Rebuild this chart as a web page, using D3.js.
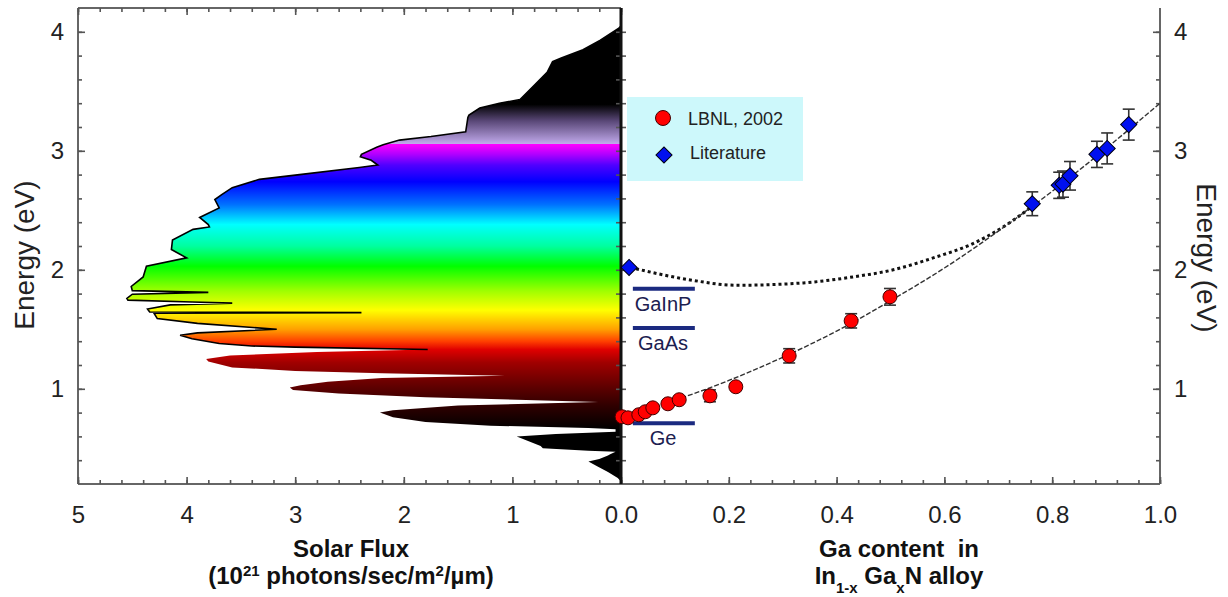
<!DOCTYPE html>
<html>
<head>
<meta charset="utf-8">
<script src="https://cdn.jsdelivr.net/npm/d3@7.9.0/dist/d3.min.js"></script>
<style>
  body { margin: 0; background: #fff; }
  svg { font-family: "Liberation Sans", Arial, sans-serif; }
</style>
</head>
<body>
<svg id="chart" width="1228" height="597"></svg>
<script>
// solar spectrum: energy (eV) and photon flux (1e21 /sec/m2/um)
const spectrumEnergy = [4.05, 4.03, 3.93, 3.85, 3.78, 3.75, 3.66, 3.54, 3.43, 3.40, 3.36, 3.30, 3.28, 3.16, 3.12, 3.09,
  3.05, 3.03, 2.97, 2.95, 2.92, 2.88, 2.86, 2.80, 2.76, 2.69, 2.63, 2.59, 2.52, 2.44, 2.38, 2.36, 2.34, 2.25, 2.17,
  2.10, 2.03, 1.94, 1.86, 1.825, 1.81, 1.795, 1.76, 1.745, 1.73, 1.72, 1.705, 1.67, 1.645, 1.64, 1.635, 1.59, 1.55,
  1.50, 1.47, 1.45, 1.42, 1.38, 1.36, 1.35, 1.33, 1.31, 1.28, 1.25, 1.23, 1.18, 1.15, 1.13, 1.11, 1.09, 1.06, 1.03,
  1.01, 0.99, 0.96, 0.93, 0.89, 0.86, 0.82, 0.80, 0.76, 0.72, 0.69, 0.67, 0.66, 0.64, 0.62, 0.60, 0.56, 0.52, 0.50,
  0.48, 0.47, 0.45, 0.44, 0.41, 0.39, 0.35, 0.30, 0.25, 0.22];
const spectrumFlux = [0, 0.02, 0.19, 0.35, 0.55, 0.63, 0.68, 0.81, 0.93, 1.12, 1.30, 1.40, 1.41, 1.43, 1.75, 2.04,
  2.19, 2.25, 2.39, 2.40, 2.30, 2.24, 2.41, 2.96, 3.33, 3.58, 3.68, 3.74, 3.70, 3.88, 3.80, 3.79, 3.94, 4.13, 4.14,
  4.00, 4.37, 4.40, 4.51, 4.50, 3.80, 4.50, 4.55, 4.54, 3.95, 3.58, 4.15, 4.36, 4.34, 2.39, 4.30, 4.27, 3.90,
  3.17, 3.90, 4.06, 3.95, 3.70, 3.40, 3.00, 1.78, 2.80, 3.60, 3.82, 3.80, 3.58, 3.00, 2.20, 1.07, 2.20, 2.70, 2.95,
  3.05, 3.02, 2.60, 1.80, 0.21, 1.50, 2.10, 2.22, 2.10, 1.80, 1.20, 0.30, 0.05, 0.05, 0.60, 0.96, 0.85, 0.74, 0.72,
  0.30, 0.05, 0.10, 0.12, 0.20, 0.30, 0.22, 0.12, 0.03, 0];

// LBNL 2002 band gaps
const lbnlGa = [0.002, 0.013, 0.033, 0.045, 0.059, 0.087, 0.108, 0.165, 0.213, 0.312, 0.427, 0.499];
const lbnlGap = [0.765, 0.756, 0.782, 0.807, 0.840, 0.874, 0.908, 0.941, 1.017, 1.277, 1.571, 1.773];
const lbnlErr = [0.02, 0.02, 0.02, 0.02, 0.02, 0.02, 0.02, 0.05, 0.03, 0.06, 0.06, 0.07];

// literature band gaps
const litGa = [0.015, 0.763, 0.813, 0.820, 0.833, 0.883, 0.902, 0.942];
const litGap = [2.02, 2.555, 2.71, 2.72, 2.79, 2.97, 3.02, 3.22];
const litErr = [0, 0.10, 0.11, 0.11, 0.12, 0.11, 0.13, 0.13];

// dashed fit through the new data, dotted curve through the old values
const fitGa = [0, 0.1, 0.2, 0.3, 0.4, 0.5, 0.6, 0.7, 0.8, 0.9, 1.0];
const fitGap = [0.77, 0.905, 1.07, 1.265, 1.485, 1.74, 2.015, 2.325, 2.66, 3.02, 3.40];
const oldGa = [0.017, 0.122, 0.215, 0.338, 0.43, 0.505, 0.586, 0.648, 0.709, 0.762];
const oldGap = [2.02, 1.92, 1.87, 1.89, 1.94, 2.00, 2.11, 2.21, 2.36, 2.53];

// reference junction materials
const deviceNames = ['GaInP', 'GaAs', 'Ge'];
const deviceGaps = [1.84, 1.51, 0.71];

const fluxTicks = [5, 4, 3, 2, 1, 0];
const fluxTickLabels = ['5', '4', '3', '2', '1', '0.0'];
const gaTicks = [0.2, 0.4, 0.6, 0.8, 1.0];
const gaTickLabels = ['0.2', '0.4', '0.6', '0.8', '1.0'];
const energyTicks = [1, 2, 3, 4];

const svg = d3.select('#chart');
const yTop = 8, yBottom = 484;
const xFlux = d3.scaleLinear().domain([5, 0]).range([78, 621]);
const xGa = d3.scaleLinear().domain([0, 1]).range([621, 1160]);
const y = d3.scaleLinear().domain([0.2, 4.2]).range([yBottom, yTop]);

// spectrum colours by energy
const colorStops = [
  [4.2, '#000000'], [3.39, '#000000'], [3.25, '#5a4878'], [3.06, '#c0a8ea'], [3.055, '#ff00ff'],
  [2.97, '#b000ff'], [2.88, '#5000ff'], [2.74, '#0000ff'], [2.55, '#0070ff'], [2.38, '#00ffff'],
  [2.20, '#00ffa0'], [2.03, '#00ff00'], [1.82, '#a0ff00'], [1.66, '#ffff00'], [1.50, '#ffa000'],
  [1.40, '#ff4000'], [1.33, '#e00000'], [1.22, '#a00000'], [1.02, '#600000'], [0.86, '#300000'],
  [0.66, '#000000'], [0.2, '#000000']
];
const grad = svg.append('defs').append('linearGradient')
  .attr('id', 'spec').attr('gradientUnits', 'userSpaceOnUse')
  .attr('x1', 0).attr('x2', 0).attr('y1', y(4.2)).attr('y2', y(0.2));
colorStops.forEach(([e, c]) => {
  grad.append('stop').attr('offset', (y(e) - y(4.2)) / (y(0.2) - y(4.2))).attr('stop-color', c);
});

const spectrum = spectrumEnergy.map((e, i) => ({ e, f: spectrumFlux[i] }));
svg.append('path')
  .datum(spectrum)
  .attr('fill', 'url(#spec)')
  .attr('d', d3.area().y(d => y(d.e)).x0(xFlux(0)).x1(d => xFlux(d.f)));
svg.append('path')
  .datum(spectrum.filter(d => d.e >= 1.33))
  .attr('fill', 'none').attr('stroke', '#000').attr('stroke-width', 1.6)
  .attr('d', d3.line().y(d => y(d.e)).x(d => xFlux(d.f)));

// frame
const frame = svg.append('g').attr('stroke', '#666').attr('stroke-width', 2).attr('fill', 'none');
frame.append('line').attr('x1', 78).attr('x2', 78).attr('y1', yTop).attr('y2', yBottom);
frame.append('line').attr('x1', 78).attr('x2', 621).attr('y1', yTop).attr('y2', yTop);
frame.append('line').attr('x1', 78).attr('x2', 1160).attr('y1', yBottom).attr('y2', yBottom);
frame.append('line').attr('x1', 1160).attr('x2', 1160).attr('y1', yTop).attr('y2', yBottom);

function ticks(g) {
  g.select('.domain').remove();
  g.selectAll('line').attr('stroke', '#555').attr('stroke-width', 1.6);
}
const minorE = d3.range(0.4, 4.15, 0.2);
const minorF = d3.range(0, 5.01, 0.2);
const minorG = d3.range(0, 1.001, 0.04);

// left panel axes
svg.append('g').attr('transform', `translate(0,${yBottom})`)
  .call(d3.axisBottom(xFlux).tickValues(minorF).tickSize(-4).tickFormat('')).call(ticks);
svg.append('g').attr('transform', `translate(0,${yBottom})`)
  .call(d3.axisBottom(xFlux).tickValues(fluxTicks).tickSize(-7).tickPadding(22)
    .tickFormat((d, i) => fluxTickLabels[i])).call(ticks);
svg.append('g').attr('transform', `translate(0,${yTop})`)
  .call(d3.axisTop(xFlux).tickValues(minorF).tickSize(-4).tickFormat('')).call(ticks);
svg.append('g').attr('transform', `translate(0,${yTop})`)
  .call(d3.axisTop(xFlux).tickValues(fluxTicks).tickSize(-7).tickFormat('')).call(ticks);
svg.append('g').attr('transform', 'translate(78,0)')
  .call(d3.axisLeft(y).tickValues(minorE).tickSize(-4).tickFormat('')).call(ticks);
svg.append('g').attr('transform', 'translate(78,0)')
  .call(d3.axisLeft(y).tickValues(energyTicks).tickSize(-7).tickPadding(14).tickFormat(d3.format('d'))).call(ticks);

// right panel axes
svg.append('g').attr('transform', `translate(0,${yBottom})`)
  .call(d3.axisBottom(xGa).tickValues(minorG).tickSize(-4).tickFormat('')).call(ticks);
svg.append('g').attr('transform', `translate(0,${yBottom})`)
  .call(d3.axisBottom(xGa).tickValues(gaTicks).tickSize(-7).tickPadding(22)
    .tickFormat((d, i) => gaTickLabels[i])).call(ticks);
svg.append('g').attr('transform', 'translate(1160,0)')
  .call(d3.axisRight(y).tickValues(minorE).tickSize(-4).tickFormat('')).call(ticks);
svg.append('g').attr('transform', 'translate(1160,0)')
  .call(d3.axisRight(y).tickValues(energyTicks).tickSize(-7).tickPadding(14).tickFormat(d3.format('d'))).call(ticks);

svg.selectAll('.tick text').attr('font-size', 24).attr('fill', '#222')
  .attr('font-family', '"Liberation Sans", Arial, sans-serif');

// centre axis, ticks on both sides
svg.append('g').attr('transform', 'translate(621,0)')
  .call(d3.axisLeft(y).tickValues(minorE).tickSize(5).tickFormat('')).call(ticks);
svg.append('g').attr('transform', 'translate(621,0)')
  .call(d3.axisRight(y).tickValues(minorE).tickSize(5).tickFormat('')).call(ticks);
svg.append('line').attr('x1', 621).attr('x2', 621).attr('y1', yTop).attr('y2', yBottom)
  .attr('stroke', '#111').attr('stroke-width', 3);

// legend box
svg.append('rect').attr('x', 627).attr('y', 97).attr('width', 176).attr('height', 84).attr('fill', '#cdf8fb');

// device band gap lines
const devG = svg.append('g');
deviceGaps.forEach((g, i) => {
  devG.append('line').attr('x1', xGa(0.022)).attr('x2', xGa(0.137)).attr('y1', y(g)).attr('y2', y(g))
    .attr('stroke', '#1b2a80').attr('stroke-width', 4);
  devG.append('text').attr('x', xGa(0.078)).attr('y', y(g) + 22).attr('text-anchor', 'middle')
    .attr('font-size', 20).attr('fill', '#1c2050').text(deviceNames[i]);
});

// curves
const lineGa = d3.line().curve(d3.curveMonotoneX).x(d => xGa(d[0])).y(d => y(d[1]));
svg.append('path').datum(oldGa.map((g, i) => [g, oldGap[i]]))
  .attr('fill', 'none').attr('stroke', '#111').attr('stroke-width', 3).attr('stroke-dasharray', '3,3')
  .attr('d', lineGa);
svg.append('path').datum(fitGa.map((g, i) => [g, fitGap[i]]))
  .attr('fill', 'none').attr('stroke', '#333').attr('stroke-width', 1.4).attr('stroke-dasharray', '5,2')
  .attr('d', lineGa);

// error bars
function errorBars(xs, ys, es) {
  const g = svg.append('g').attr('stroke', '#333').attr('stroke-width', 1.6);
  xs.forEach((x, i) => {
    if (!es[i]) return;
    const cx = xGa(x), y0 = y(ys[i] - es[i]), y1 = y(ys[i] + es[i]);
    g.append('line').attr('x1', cx).attr('x2', cx).attr('y1', y0).attr('y2', y1);
    g.append('line').attr('x1', cx - 6).attr('x2', cx + 6).attr('y1', y0).attr('y2', y0);
    g.append('line').attr('x1', cx - 6).attr('x2', cx + 6).attr('y1', y1).attr('y2', y1);
  });
}
errorBars(lbnlGa, lbnlGap, lbnlErr);
errorBars(litGa, litGap, litErr);

const diamond = d3.symbol().type(d3.symbolSquare).size(130);
svg.append('g').selectAll('circle').data(lbnlGa).join('circle')
  .attr('cx', d => xGa(d)).attr('cy', (d, i) => y(lbnlGap[i])).attr('r', 7)
  .attr('fill', '#ff0000').attr('stroke', '#400').attr('stroke-width', 1);
svg.append('g').selectAll('path').data(litGa).join('path')
  .attr('d', diamond)
  .attr('transform', (d, i) => `translate(${xGa(d)},${y(litGap[i])}) rotate(45)`)
  .attr('fill', '#0010f0').attr('stroke', '#001').attr('stroke-width', 1);

// legend entries
svg.append('circle').attr('cx', 663).attr('cy', 118).attr('r', 7.5)
  .attr('fill', '#ff0000').attr('stroke', '#400').attr('stroke-width', 1);
svg.append('path').attr('d', diamond)
  .attr('transform', 'translate(664,155) rotate(45)')
  .attr('fill', '#0010f0').attr('stroke', '#001').attr('stroke-width', 1);
svg.append('text').attr('x', 688).attr('y', 125).attr('font-size', 18).attr('fill', '#222').text('LBNL, 2002');
svg.append('text').attr('x', 690).attr('y', 159).attr('font-size', 18).attr('fill', '#222').text('Literature');

// axis titles
svg.append('text').attr('transform', 'translate(34,255) rotate(-90)').attr('text-anchor', 'middle')
  .attr('font-size', 28).attr('fill', '#222').text('Energy (eV)');
svg.append('text').attr('transform', 'translate(1197,258) rotate(90)').attr('text-anchor', 'middle')
  .attr('font-size', 28).attr('fill', '#222').text('Energy (eV)');

const t1 = svg.append('g').attr('font-weight', 'bold').attr('font-size', 24).attr('fill', '#111')
  .attr('text-anchor', 'middle');
t1.append('text').attr('x', 351).attr('y', 557).text('Solar Flux');
const t2 = t1.append('text').attr('x', 351).attr('y', 584);
t2.append('tspan').text('(10');
t2.append('tspan').attr('baseline-shift', 'super').attr('font-size', 15).text('21');
t2.append('tspan').text(' photons/sec/m');
t2.append('tspan').attr('baseline-shift', 'super').attr('font-size', 15).text('2');
t2.append('tspan').text('/\u00b5m)');
t1.append('text').attr('x', 899).attr('y', 557).attr('xml:space', 'preserve').text('Ga content  in');
const t3 = t1.append('text').attr('x', 899).attr('y', 584);
t3.append('tspan').text('In');
t3.append('tspan').attr('baseline-shift', 'sub').attr('font-size', 15).text('1-x');
t3.append('tspan').text(' Ga');
t3.append('tspan').attr('baseline-shift', 'sub').attr('font-size', 15).text('x');
t3.append('tspan').text('N alloy');
</script>
</body>
</html>
